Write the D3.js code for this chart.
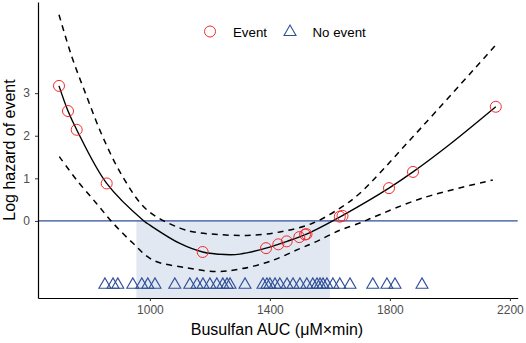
<!DOCTYPE html>
<html>
  <head>
    <meta http-equiv="Content-Type" content="text/html;charset=utf-8"/>
    <title>Busulfan AUC</title>
    <script src="https://d3js.org/d3.v7.min.js"></script>
  </head>
  <body style="margin:0">
    <div id="content"></div>
    <script type="text/javascript">

        // fitted log hazard (solid) and its confidence band (dashed)
        const fitX   = [697, 727, 756, 856, 980, 1000, 1100, 1176, 1250, 1300, 1387, 1457, 1522, 1640, 1797, 1877, 2000, 2153]
        const fitY   = [3.17, 2.58, 2.14, 0.88, 0, -0.1, -0.53, -0.73, -0.79, -0.78, -0.64, -0.48, -0.31, 0.12, 0.77, 1.15, 1.8, 2.68]

        const upperX = [697, 740, 790, 843, 910, 990, 1100, 1155, 1230, 1323, 1433, 1544, 1640, 1700, 1867, 2153]
        const upperY = [4.84, 3.85, 2.91, 1.97, 1.03, 0.26, -0.17, -0.27, -0.32, -0.34, -0.26, -0.05, 0.33, 0.65, 1.9, 4.13]

        const lowerX = [698, 756, 822, 877, 943, 1010, 1123, 1220, 1300, 1400, 1500, 1544, 1633, 1700, 1743, 1910, 2143]
        const lowerY = [1.51, 0.96, 0.41, -0.05, -0.52, -0.92, -1.1, -1.19, -1.13, -0.95, -0.65, -0.52, -0.22, -0.05, 0.08, 0.54, 0.96]

        // patients with event (circles)
        const eventX = [697, 727, 756, 856, 1176, 1387, 1428, 1456, 1498, 1517, 1522, 1633, 1642, 1797, 1877, 2153]
        const eventY = [3.17, 2.58, 2.14, 0.88, -0.73, -0.64, -0.55, -0.48, -0.38, -0.32, -0.31, 0.10, 0.12, 0.77, 1.15, 2.68]

        // patients without event (triangles along the bottom)
        const noEventX = [850, 877, 893, 943, 973, 993, 1017, 1083, 1133, 1157, 1177, 1200, 1223, 1243, 1257, 1267,
                          1317, 1377, 1390, 1400, 1417, 1433, 1457, 1477, 1500, 1523, 1543, 1557, 1567, 1577, 1590,
                          1610, 1633, 1667, 1743, 1790, 1817, 1907]
        const noEventY = -1.5

        // shaded target range
        const band = [955, 1600]

        const xTicks = [1000, 1400, 1800, 2200]
        const yTicks = [0, 1, 2, 3]

        const width = 526,
              height = 343

        const red = '#f22b2b',
              blue = '#2f4f97'

        const x = d3.scaleLinear().domain([627, 2226]).range([38, 517.7])
        const y = d3.scaleLinear().domain([-1.81, 5.14]).range([298, 2])

        const svg = d3.select('#content').append('svg')
            .attr('width', width)
            .attr('height', height)
            .style('font-family', 'Liberation Sans, Arial, sans-serif')

        svg.append('rect')
            .attr('x', x(band[0]))
            .attr('width', x(band[1]) - x(band[0]))
            .attr('y', y(0))
            .attr('height', y(-1.81) - y(0))
            .attr('fill', '#e1e8f2')

        svg.append('line')
            .attr('x1', x(627)).attr('x2', x(2226))
            .attr('y1', y(0)).attr('y2', y(0))
            .attr('stroke', blue)
            .attr('stroke-width', 1.2)

        const line = d3.line()
            .x(d => x(d[0]))
            .y(d => y(d[1]))
            .curve(d3.curveCatmullRom)

        svg.append('path')
            .datum(d3.zip(upperX, upperY))
            .attr('d', line)
            .attr('fill', 'none')
            .attr('stroke', '#000')
            .attr('stroke-width', 1.5)
            .attr('stroke-dasharray', '6,5')

        svg.append('path')
            .datum(d3.zip(lowerX, lowerY))
            .attr('d', line)
            .attr('fill', 'none')
            .attr('stroke', '#000')
            .attr('stroke-width', 1.5)
            .attr('stroke-dasharray', '6,5')

        svg.append('path')
            .datum(d3.zip(fitX, fitY))
            .attr('d', line)
            .attr('fill', 'none')
            .attr('stroke', '#000')
            .attr('stroke-width', 1.4)

        svg.append('g').selectAll('circle')
            .data(d3.zip(eventX, eventY))
            .enter()
            .append('circle')
            .attr('cx', d => x(d[0]))
            .attr('cy', d => y(d[1]))
            .attr('r', 5.5)
            .attr('fill', 'none')
            .attr('stroke', red)
            .attr('stroke-width', 1)

        const tri = d3.symbol().type(d3.symbolTriangle).size(62)

        svg.append('g').selectAll('path')
            .data(noEventX)
            .enter()
            .append('path')
            .attr('d', tri)
            .attr('transform', d => `translate(${x(d)},${y(noEventY)})`)
            .attr('fill', 'none')
            .attr('stroke', blue)
            .attr('stroke-width', 1.1)

        // axes
        const xAxis = svg.append('g')
            .attr('transform', `translate(0,${y(-1.81)})`)
            .call(d3.axisBottom(x).tickValues(xTicks).tickFormat(d3.format('d'))
                .tickSize(3).tickSizeOuter(0).tickPadding(4))
        const yAxis = svg.append('g')
            .attr('transform', `translate(${x(627)},0)`)
            .call(d3.axisLeft(y).tickValues(yTicks).tickFormat(d3.format('d'))
                .tickSize(3).tickSizeOuter(0).tickPadding(5))

        ;[xAxis, yAxis].forEach(a => {
            a.select('.domain').attr('stroke', '#000').attr('stroke-width', 1.2)
            a.selectAll('.tick line').attr('stroke', '#333')
            a.selectAll('.tick text')
                .attr('fill', '#4d4d4d')
                .style('font-size', '12px')
                .style('font-family', 'Liberation Sans, Arial, sans-serif')
        })

        svg.append('text')
            .attr('x', 277)
            .attr('y', 335)
            .attr('text-anchor', 'middle')
            .style('font-size', '16px')
            .text('Busulfan AUC (μM×min)')

        svg.append('text')
            .attr('transform', 'translate(15,150) rotate(-90)')
            .attr('text-anchor', 'middle')
            .style('font-size', '16px')
            .text('Log hazard of event')

        // legend
        const legend = svg.append('g')
        legend.append('circle')
            .attr('cx', 210).attr('cy', 31.5).attr('r', 5.5)
            .attr('fill', 'none').attr('stroke', red)
        legend.append('text')
            .attr('x', 233).attr('y', 36.5)
            .style('font-size', '13.3px')
            .text('Event')
        legend.append('path')
            .attr('d', tri)
            .attr('transform', 'translate(290,32)')
            .attr('fill', 'none').attr('stroke', blue).attr('stroke-width', 1.1)
        legend.append('text')
            .attr('x', 312.5).attr('y', 36.5)
            .style('font-size', '13.3px')
            .text('No event')

    </script>
  </body>
</html>
